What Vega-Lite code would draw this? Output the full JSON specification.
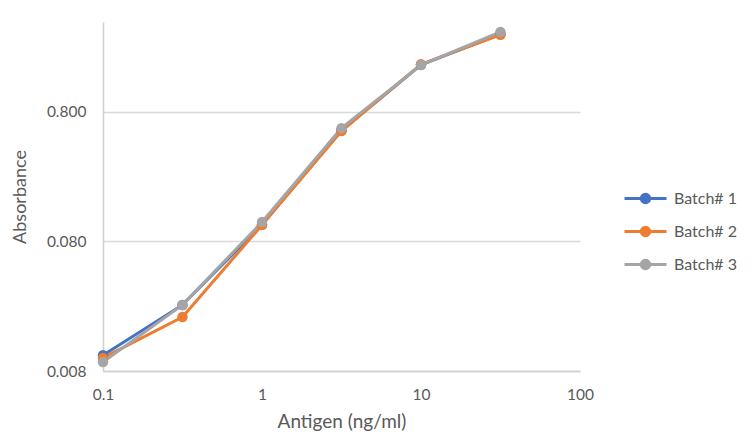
{
  "$schema": "https://vega.github.io/schema/vega-lite/v6.json",
  "width": 477,
  "height": 349,
  "autosize": {"type": "none"},
  "padding": {"left": 103, "top": 22, "right": 175, "bottom": 74},
  "background": "white",
  "config": {
    "view": {"stroke": null},
    "font": "Lato"
  },
  "data": {
    "values": [
      {"antigen": 0.1, "absorbance": 0.0106, "batch": "Batch# 1"},
      {"antigen": 0.316, "absorbance": 0.0259, "batch": "Batch# 1"},
      {"antigen": 1, "absorbance": 0.108, "batch": "Batch# 1"},
      {"antigen": 3.16, "absorbance": 0.575, "batch": "Batch# 1"},
      {"antigen": 10, "absorbance": 1.85, "batch": "Batch# 1"},
      {"antigen": 31.6, "absorbance": 3.2, "batch": "Batch# 1"},
      {"antigen": 0.1, "absorbance": 0.0101, "batch": "Batch# 2"},
      {"antigen": 0.316, "absorbance": 0.0209, "batch": "Batch# 2"},
      {"antigen": 1, "absorbance": 0.107, "batch": "Batch# 2"},
      {"antigen": 3.16, "absorbance": 0.57, "batch": "Batch# 2"},
      {"antigen": 10, "absorbance": 1.87, "batch": "Batch# 2"},
      {"antigen": 31.6, "absorbance": 3.15, "batch": "Batch# 2"},
      {"antigen": 0.1, "absorbance": 0.0094, "batch": "Batch# 3"},
      {"antigen": 0.316, "absorbance": 0.0259, "batch": "Batch# 3"},
      {"antigen": 1, "absorbance": 0.113, "batch": "Batch# 3"},
      {"antigen": 3.16, "absorbance": 0.6, "batch": "Batch# 3"},
      {"antigen": 10, "absorbance": 1.84, "batch": "Batch# 3"},
      {"antigen": 31.6, "absorbance": 3.32, "batch": "Batch# 3"}
    ]
  },
  "mark": {"type": "line", "strokeWidth": 3, "point": {"filled": true, "size": 110, "opacity": 1}},
  "encoding": {
    "x": {
      "field": "antigen", "type": "quantitative",
      "scale": {"type": "log", "domain": [0.1, 100], "nice": false},
      "axis": {
        "values": [0.1, 1, 10, 100], "format": "~g", "grid": false, "ticks": false,
        "domain": true, "domainColor": "#d0d0d0", "domainWidth": 1.5,
        "labelFontSize": 15.5, "labelColor": "#595959", "labelPadding": 16, "labelFlush": false,
        "title": "Antigen (ng/ml)", "titleFontSize": 19, "titleFontWeight": "normal", "titleColor": "#595959", "titlePadding": 10
      }
    },
    "y": {
      "field": "absorbance", "type": "quantitative",
      "scale": {"type": "log", "domain": [0.008, 3.96], "nice": false},
      "axis": {
        "values": [0.008, 0.08, 0.8], "format": ".3f", "grid": true, "gridColor": "#d9d9d9", "gridWidth": 1.5, "ticks": false,
        "domain": true, "domainColor": "#d0d0d0", "domainWidth": 1.5,
        "labelFontSize": 15.5, "labelColor": "#595959", "labelPadding": 17,
        "title": "Absorbance", "titleFontSize": 18, "titleFontWeight": "normal", "titleColor": "#595959", "titlePadding": 17
      }
    },
    "color": {
      "field": "batch", "type": "nominal",
      "scale": {"domain": ["Batch# 1", "Batch# 2", "Batch# 3"], "range": ["#4472C4", "#ED7D31", "#A5A5A5"]},
      "legend": {
        "title": null, "orient": "none", "legendX": 520, "legendY": 154,
        "symbolType": "M-1,0H1M0.2,0A0.2,0.2,0,1,1,-0.2,0A0.2,0.2,0,1,1,0.2,0",
        "symbolSize": 1764, "symbolStrokeWidth": 3, "labelFontSize": 16, "labelColor": "#595959",
        "labelOffset": 6, "rowPadding": -2.5,
        "encode": {"symbols": {"update": {"fill": {"scale": "color", "field": "value"}, "fillOpacity": {"value": 1}, "opacity": {"value": 1}}}}
      }
    }
  }
}
